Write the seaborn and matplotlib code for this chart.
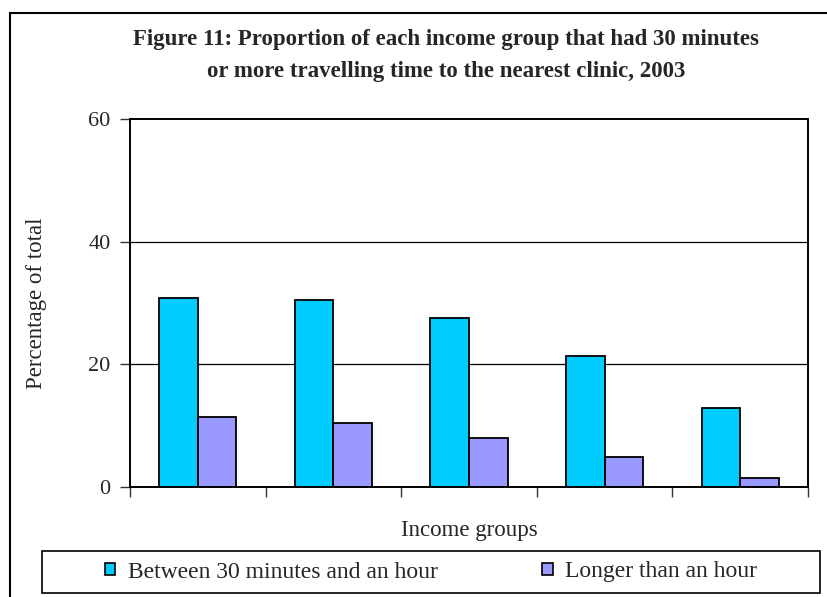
import matplotlib
matplotlib.use("Agg")
import matplotlib.pyplot as plt
import seaborn as sns
import pandas as pd
from matplotlib.lines import Line2D
from matplotlib.patches import Rectangle

# Data: share of each income group with 30+ minutes travel to the nearest clinic
income_groups = ["Group 1", "Group 2", "Group 3", "Group 4", "Group 5"]
between_30_and_60 = [30.8, 30.5, 27.5, 21.3, 12.9]
longer_than_hour = [11.4, 10.4, 8.0, 4.9, 1.4]
series_names = ["Between 30 minutes and an hour", "Longer than an hour"]
y_ticks = [0, 20, 40, 60]

df = pd.DataFrame({
    "group": income_groups * 2,
    "series": [series_names[0]] * 5 + [series_names[1]] * 5,
    "value": between_30_and_60 + longer_than_hour,
})

sns.set_theme(style="white")
plt.rcParams["font.family"] = ["Liberation Serif", "DejaVu Serif"]

W, H = 828, 597
fig = plt.figure(figsize=(W / 100, H / 100), dpi=100)
ax = fig.add_axes([130 / W, 1 - 487 / H, (808 - 130) / W, (487 - 119) / H])

palette = {series_names[0]: "#00CCFF", series_names[1]: "#9999FF"}
sns.barplot(data=df, x="group", y="value", hue="series", order=income_groups,
            hue_order=series_names, palette=palette, width=0.57,
            edgecolor="black", linewidth=1.3, saturation=1, ax=ax, legend=False)

ax.set_ylim(0, 60)
ax.set_xlim(-0.5, 4.5)
ax.set_yticks(y_ticks)
ax.set_yticklabels([str(t) for t in y_ticks], fontsize=16)
ax.set_xticks([i - 0.5 for i in range(6)])
ax.set_xticklabels([""] * 6)
ax.tick_params(axis="both", direction="out", length=7, width=1, color="#333333",
               bottom=True, left=True, pad=7)
for y in (20, 40):
    ax.axhline(y, color="black", linewidth=0.9, zorder=0)
for s in ax.spines.values():
    s.set_visible(True)
    s.set_color("black")
    s.set_linewidth(1.4)

ax.set_xlabel("Income groups", fontsize=16.5, labelpad=10)
ax.set_ylabel("Percentage of total", fontsize=16.5, labelpad=30)

fig.text(446 / W, 1 - 40 / H,
         "Figure 11: Proportion of each income group that had 30 minutes",
         ha="center", va="center", fontsize=16.5, fontweight="bold")
fig.text(446 / W, 1 - 71 / H,
         "or more travelling time to the nearest clinic, 2003",
         ha="center", va="center", fontsize=16.5, fontweight="bold")

# Outer frame of the figure (left and top edges)
fig.add_artist(Line2D([10 / W, 10 / W], [0, 1 - 13 / H], transform=fig.transFigure,
                      color="black", linewidth=1.5))
fig.add_artist(Line2D([10 / W, 1], [1 - 13 / H, 1 - 13 / H], transform=fig.transFigure,
                      color="black", linewidth=1.5))

# Legend box
box = (42 / W, 1 - 593 / H, (820 - 42) / W, 42 / H)
fig.add_artist(Rectangle((box[0], box[1]), box[2], box[3], transform=fig.transFigure,
                         facecolor="white", edgecolor="black", linewidth=1.2))

handles = [Rectangle((0, 0), 1, 1, facecolor=palette[n], edgecolor="black",
                     linewidth=1.2) for n in series_names]
leg = fig.legend(handles, series_names, loc="center", ncol=2,
                 bbox_to_anchor=box, fontsize=17, frameon=False,
                 handlelength=0.45, handleheight=0.45, handletextpad=0.55,
                 borderaxespad=0, borderpad=0, columnspacing=4.4)

fig.savefig("out.png", dpi=100)
